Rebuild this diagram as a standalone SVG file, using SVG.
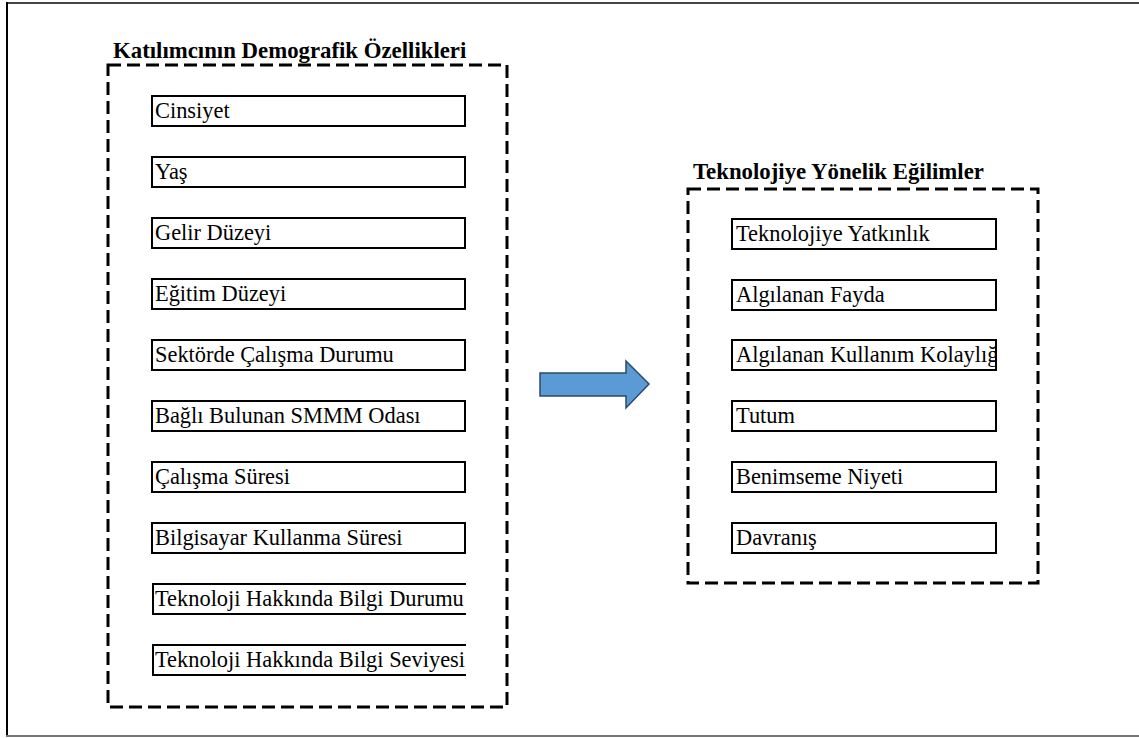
<svg xmlns="http://www.w3.org/2000/svg" width="1139" height="738" viewBox="0 0 1139 738">
<style>
.t{font-family:'Liberation Serif','Times New Roman',Times,serif;font-size:22.4px;fill:#000}
.h{font-family:'Liberation Serif','Times New Roman',Times,serif;font-size:22.8px;font-weight:bold;fill:#000}
.b{fill:#fff;stroke:#000;stroke-width:2}
.o{fill:none;stroke:#000;stroke-width:2}
.d{fill:none;stroke:#000;stroke-width:3;stroke-dasharray:13 6}
</style>
<defs>
<clipPath id="cl"><rect x="152" y="0" width="314" height="738"/></clipPath>
<clipPath id="cr"><rect x="732" y="0" width="263" height="738"/></clipPath>
</defs>
<rect x="0" y="0" width="1139" height="738" fill="#fff"/>
<g id="frame">
<line x1="6" y1="3" x2="1139" y2="3" stroke="#444" stroke-width="2"/>
<line x1="7" y1="2" x2="7" y2="737" stroke="#000" stroke-width="2"/>
<line x1="6" y1="736" x2="1139" y2="736" stroke="#777" stroke-width="2"/>
</g>
<g id="group-left">
<text class="h" x="113" y="58">Katılımcının Demografik Özellikleri</text>
<rect class="d" x="108" y="65" width="399" height="642"/>
</g>
<g id="group-right">
<text class="h" x="693" y="179">Teknolojiye Yönelik Eğilimler</text>
<rect class="d" x="688" y="189" width="350" height="394"/>
</g>
<g id="n1"><rect class="b" x="152" y="96" width="313" height="30"/><text class="t" x="155" y="118">Cinsiyet</text></g>
<g id="n2"><rect class="b" x="152" y="157" width="313" height="30"/><text class="t" x="155" y="179">Yaş</text></g>
<g id="n3"><rect class="b" x="152" y="218" width="313" height="30"/><text class="t" x="155" y="240">Gelir Düzeyi</text></g>
<g id="n4"><rect class="b" x="152" y="279" width="313" height="30"/><text class="t" x="155" y="301">Eğitim Düzeyi</text></g>
<g id="n5"><rect class="b" x="152" y="340" width="313" height="30"/><text class="t" x="155" y="362">Sektörde Çalışma Durumu</text></g>
<g id="n6"><rect class="b" x="152" y="401" width="313" height="30"/><text class="t" x="155" y="423">Bağlı Bulunan SMMM Odası</text></g>
<g id="n7"><rect class="b" x="152" y="462" width="313" height="30"/><text class="t" x="155" y="484">Çalışma Süresi</text></g>
<g id="n8"><rect class="b" x="152" y="523" width="313" height="30"/><text class="t" x="155" y="545">Bilgisayar Kullanma Süresi</text></g>
<g id="n9"><path class="o" d="M466,584 H153 V614 H466"/><text class="t" x="155" y="606" clip-path="url(#cl)">Teknoloji Hakkında Bilgi Durumu</text></g>
<g id="n10"><path class="o" d="M466,645 H153 V675 H466"/><text class="t" x="155" y="667" clip-path="url(#cl)">Teknoloji Hakkında Bilgi Seviyesi</text></g>
<g id="m1"><rect class="b" x="732" y="219" width="264" height="30"/><text class="t" x="736" y="241" clip-path="url(#cr)">Teknolojiye Yatkınlık</text></g>
<g id="m2"><rect class="b" x="732" y="280" width="264" height="30"/><text class="t" x="736" y="302" clip-path="url(#cr)">Algılanan Fayda</text></g>
<g id="m3"><rect class="b" x="732" y="340" width="264" height="30"/><text class="t" x="736" y="362" clip-path="url(#cr)">Algılanan Kullanım Kolaylığı</text></g>
<g id="m4"><rect class="b" x="732" y="401" width="264" height="30"/><text class="t" x="736" y="423" clip-path="url(#cr)">Tutum</text></g>
<g id="m5"><rect class="b" x="732" y="462" width="264" height="30"/><text class="t" x="736" y="484" clip-path="url(#cr)">Benimseme Niyeti</text></g>
<g id="m6"><rect class="b" x="732" y="523" width="264" height="30"/><text class="t" x="736" y="545" clip-path="url(#cr)">Davranış</text></g>
<g id="connectors">
<path d="M540,373 H626 V361 L649,384 L626,408 V396 H540 Z" fill="#5b9bd5" stroke="#2e4a66" stroke-width="1.5"/>
</g>
</svg>
